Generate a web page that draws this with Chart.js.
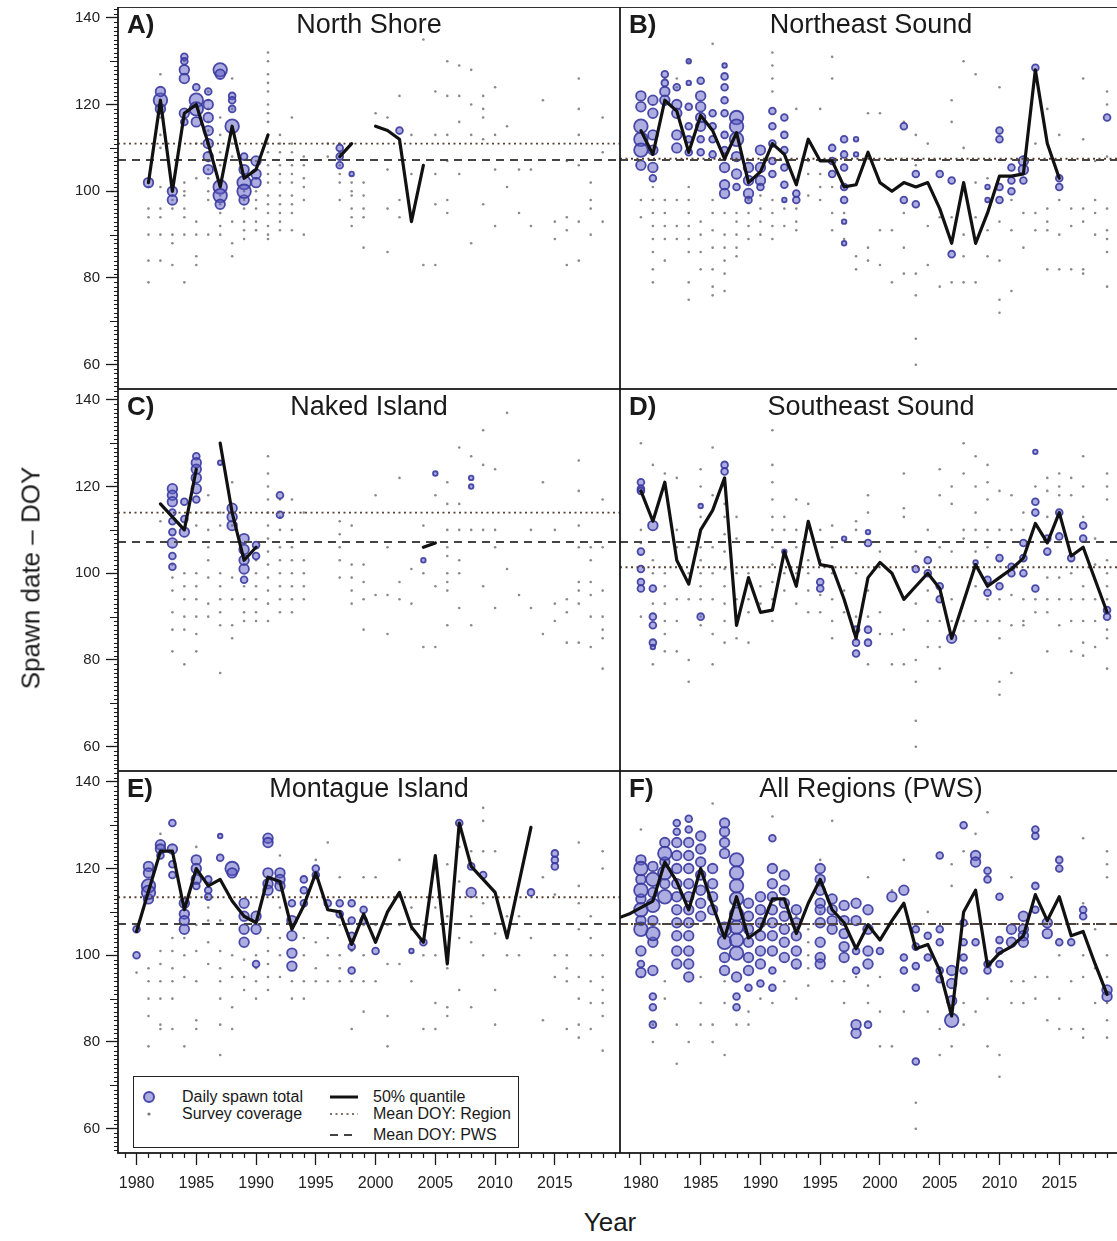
<!DOCTYPE html>
<html>
<head>
<meta charset="utf-8">
<script src="https://cdn.jsdelivr.net/npm/chart.js@4.4.1/dist/chart.umd.min.js"></script>
<style>
  body { margin: 0; width: 1117px; height: 1241px; overflow: hidden; background: #fff; position: relative;
         font-family: "Liberation Sans", Arial, sans-serif; color: #1a1a1a; }
  .box { position: absolute; }
  .letter { position: absolute; font-weight: bold; font-size: 26px; line-height: 27px; }
  .name { position: absolute; font-size: 27px; line-height: 27px; transform: translateX(-50%); white-space: nowrap; }
  .axtitle { position: absolute; font-size: 26px; white-space: nowrap; transform: translate(-50%, -50%); }
  #legend { position: absolute; left: 133px; top: 1076px; width: 384px; height: 70px; border: 1.6px solid #222;
            background: #fff; overflow: hidden; font-size: 16px; }
  #legend span { position: absolute; white-space: nowrap; line-height: 16px; }
  #legend svg { position: absolute; left: 0; top: 0; }
</style>
</head>
<body>

<script>
// ---- data -------------------------------------------------------------
const years = [1978, 1979, 1980, 1981, 1982, 1983, 1984, 1985, 1986, 1987, 1988, 1989, 1990, 1991,
               1992, 1993, 1994, 1995, 1996, 1997, 1998, 1999, 2000, 2001, 2002, 2003, 2004, 2005,
               2006, 2007, 2008, 2009, 2010, 2011, 2012, 2013, 2014, 2015, 2016, 2017, 2018, 2019];
const xTicks = [1980, 1985, 1990, 1995, 2000, 2005, 2010, 2015];
const yTicks = [60, 80, 100, 120, 140];

const panelLetters = ['A)', 'B)', 'C)', 'D)', 'E)', 'F)'];
const panelNames = ['North Shore', 'Northeast Sound', 'Naked Island', 'Southeast Sound',
                    'Montague Island', 'All Regions (PWS)'];
const regionMean = [111, 107.5, 114, 101.4, 113.4, 107.2];
const pwsMean = 107.2;

// 50% quantile of spawn date, one value per entry of `years` (null = no spawn)
const quantA = [null, null, null, 102, 121, 100, 118, 120, 111, 101, 115, 103, 105, 113,
                null, null, null, null, null, 108, 111, null, 115, 114, 112, 93, 106, null,
                null, null, null, null, null, null, null, null, null, null, null, null, null, null];
const quantB = [null, null, 114, 108.5, 121, 118.5, 109, 117.5, 114, 107.5, 113.5, 102, 104.5, 111,
                108.5, 101.5, 112, 107, 107, 101, 101.5, 109, 102, 100, 102, 101, 102, 96,
                88, 102, 88, 95, 103.5, 103.5, 104, 128, 111, 103, null, null, null, null];
const quantC = [null, null, null, null, 116, 113, 110, 124, null, 130, 114, 103, 106, null,
                null, null, null, null, null, null, null, null, null, null, null, null, 106, 107,
                null, null, null, null, null, null, null, null, null, null, null, null, null, null];
const quantD = [null, null, 119, 112, 121, 103, 97.5, 110, 114.5, 122, 88, 99, 91, 91.5,
                105, 97, 112, 102, 101.5, 94, 85, 99, 102.5, 100, 94, 97, 100, 96.5,
                85, 93.5, 102, 97, 99, 101, 103.5, 111.5, 107, 114, 104, 106, 98.5, 91];
const quantE = [null, null, 105.5, null, 124, 124, 110.5, 120, 116, 117.5, 112.5, 109, 107.5, 118,
                117, 106, 111.5, 119, 110.5, 110, 102.5, 109.5, 103, 110, 114.5, 106.5, 103, 123,
                98, 130.5, 120.5, 117.5, 114.5, 104, null, 129.5, null, null, null, null, null, null];
const quantF = [108.5, 109.5, 111, 112.5, 121.5, 117, 110.5, 120, 111.5, 104, 113.5, 104, 106, 113,
                113, 105, 112, 117.5, 110.5, 107.5, 101.5, 107, 103.5, 108, 112, 101.5, 102.5, 96.5,
                86, 110, 115, 97.5, 100.5, 102, 104.5, 114, 108, 113.5, 104.5, 105.5, 98, 91];

// survey coverage: [year, [days surveyed]]
const coverA = [
  [1981, [102, 101, 96, 94, 90, 84, 79]], [1982, [127, 117, 113, 110, 101, 96, 94, 90, 84]],
  [1983, [99, 98, 96, 90, 88, 83]], [1984, [130, 102, 100, 99, 96, 94, 90, 79]],
  [1985, [111, 103, 93, 90, 85, 83]], [1986, [123, 121, 119, 116, 114, 112, 109, 107, 105, 103, 100, 98, 90]],
  [1987, [117, 113, 109, 106, 102, 99, 97, 95, 92, 90]], [1988, [126, 119, 111, 108, 93, 88, 85]],
  [1989, [100, 98, 96, 93, 91, 89]], [1990, [107, 105, 103, 100, 98, 96, 93, 91]],
  [1991, [132, 130, 127, 125, 123, 120, 118, 116, 113, 111, 109, 106, 104, 102, 99, 97, 95, 92, 90, 89]],
  [1992, [113, 111, 109, 106, 104, 102, 99, 97, 95, 93, 91]], [1993, [117, 111, 109, 106, 104, 102, 99, 97, 95, 91]],
  [1994, [108, 106, 103, 101, 98, 90]], [1996, [111, 108]], [1997, [111, 109, 106, 104, 102, 98]],
  [1998, [102, 100, 99, 96, 94, 92]], [1999, [102, 99, 96, 94, 87]], [2000, [118]],
  [2001, [117, 105, 96, 86]], [2002, [122, 98, 94]], [2003, [113, 104]], [2004, [135, 83]],
  [2005, [123, 113, 104, 97, 83]], [2006, [130, 122, 113, 107, 98, 95]], [2007, [129, 122, 116, 104]],
  [2008, [128, 120, 113, 88]], [2009, [122, 119, 117, 112, 97]], [2010, [124, 113, 105, 92]],
  [2011, [115, 101]], [2012, [105, 95]], [2013, [105, 92]], [2014, [121]], [2015, [93, 89]],
  [2016, [107, 94, 91, 83]], [2017, [126, 119, 113, 106, 93, 84]], [2018, [102, 98, 96, 90]],
  [2019, [117, 109, 93]]
];
const coverB = [
  [1980, [98, 94]], [1981, [101, 98, 95, 92, 89, 86, 82, 79]], [1982, [126, 98, 95, 92, 89, 84]],
  [1983, [126, 124, 98, 92, 89]], [1984, [130, 101, 98, 95, 92, 89, 86, 79, 75]],
  [1985, [93, 90, 86, 82]], [1986, [134, 98, 95, 91, 87, 82, 78, 76]], [1987, [95, 90, 87, 84, 81, 77]],
  [1988, [95, 93, 90, 87, 85]], [1989, [98, 95, 92, 89]], [1990, [99, 96, 93, 90]],
  [1991, [132, 129, 126, 123, 98, 95, 92, 89]], [1992, [96, 92]], [1993, [119, 96, 93, 91]],
  [1994, [107, 104, 99]], [1995, [119, 104, 101, 98]], [1996, [131, 126, 101, 95, 91]],
  [1997, [95, 89]], [1998, [85, 82]], [1999, [118, 87, 84]], [2000, [118, 91, 83]], [2001, [91, 79]],
  [2002, [116, 95, 87, 81]], [2003, [113, 106, 81, 76, 66, 60]], [2004, [111, 92, 83]], [2005, [94, 78]],
  [2006, [121, 116, 94, 79]], [2007, [130, 110, 90, 85, 79]], [2008, [127, 102, 94, 79]],
  [2009, [103, 91, 85]], [2010, [124, 93, 84, 75, 72]], [2011, [98, 91, 77]], [2012, [108, 95, 87]],
  [2013, [111, 95, 91]], [2014, [119, 96, 93, 91, 82]], [2015, [113, 98, 90, 82]], [2016, [96, 92, 82]],
  [2017, [126, 112, 96, 93, 82, 81]], [2018, [107, 98, 95, 90]], [2019, [123, 120, 108, 96, 91, 89, 86, 78]]
];
const coverC = [
  [1982, [112]], [1983, [102, 99, 96, 91, 87, 82]], [1984, [110, 100, 97, 94, 90, 87, 79]],
  [1985, [114, 111, 100, 97, 94, 90, 86, 82]], [1986, [118, 114, 110, 106, 103, 99, 93, 90]],
  [1987, [114, 111, 100, 97, 94, 91, 88, 77]], [1988, [121, 111, 99, 94, 88, 85]], [1989, [97, 94, 91, 89]],
  [1990, [103, 100, 97, 94, 91, 89]], [1991, [127, 123, 120, 117, 114, 111, 108, 105, 102, 99, 96, 93, 89]],
  [1992, [117, 113, 110, 106, 103, 100, 97, 94, 91]], [1993, [117, 110, 106, 103, 100, 97, 94, 91]],
  [1994, [114, 103, 100, 97, 94]], [1997, [112, 109, 106, 103, 99]], [1998, [111, 102, 99, 96, 93]],
  [1999, [102, 98, 94, 87]], [2000, [118, 95]], [2001, [106, 95, 86]], [2002, [122, 98, 94]],
  [2003, [101, 93]], [2004, [111, 100, 83]], [2005, [118, 97, 83]],
  [2006, [121, 116, 110, 106, 104, 100, 98, 96, 88]], [2007, [129, 116, 110, 103, 100, 92]],
  [2008, [127, 110, 88]], [2009, [133, 125, 110, 97]], [2010, [124, 110, 106, 92]], [2011, [137, 101]],
  [2012, [95]], [2013, [110, 92]], [2014, [121, 86]], [2015, [110, 93, 89]], [2016, [94, 91, 84]],
  [2017, [126, 119, 111, 106, 98, 96, 93, 84]], [2018, [106, 103, 98, 95, 90, 83]],
  [2019, [117, 106, 96, 90, 87, 85, 78]]
];
const coverD = [
  [1980, [130, 110, 107, 90]], [1981, [125, 103, 100, 93, 79]], [1982, [123, 100, 97, 93, 89, 86, 82]],
  [1983, [122, 110, 106, 94, 89, 82]], [1984, [106, 100, 94, 80, 75]],
  [1985, [124, 120, 113, 110, 106, 103, 100, 97, 94, 90, 88]], [1986, [129, 118, 106, 100, 94, 86, 79]],
  [1987, [120, 116, 113, 109, 105, 101, 97, 93, 89, 84]], [1988, [113, 108, 100, 94, 85]],
  [1989, [100, 94, 91, 84]], [1990, [97, 93]], [1991, [133, 125, 121, 117, 113, 110, 106, 102, 98, 94, 89]],
  [1992, [113, 110, 100, 96]], [1993, [117, 110, 106, 100, 93]], [1994, [116, 103, 100, 96, 91]],
  [1995, [110, 103, 95, 91]], [1996, [111, 106, 100, 94, 89, 85]], [1997, [96, 91]],
  [1998, [112, 110, 100, 90]], [1999, [118, 114, 96, 90, 79]], [2000, [105, 91, 86]], [2001, [100, 86, 79]],
  [2002, [123, 115, 113, 87, 79]], [2003, [105, 93, 80, 75, 66, 60]], [2004, [110, 96, 89, 83]],
  [2005, [124, 118, 106, 89, 83, 78]], [2006, [120, 116, 105, 94, 89]], [2007, [130, 123, 110, 108, 89]],
  [2008, [127, 120, 114, 110, 105, 97, 89]], [2009, [125, 121, 117, 110, 106, 94, 89]],
  [2010, [119, 110, 94, 89, 85, 75, 72]], [2011, [118, 110, 95, 88, 77]], [2012, [114, 110, 94, 89, 88]],
  [2013, [120, 94, 91]], [2014, [122, 119, 113, 99, 94, 91, 82]], [2015, [123, 120, 118, 99, 94, 88]],
  [2016, [122, 118, 100, 94, 89, 82]], [2017, [127, 120, 113, 97, 94, 89, 84, 81]],
  [2018, [108, 102, 94, 89, 83]], [2019, [123, 120, 117, 103, 100, 97, 94, 87, 85, 78]]
];
const coverE = [
  [1980, [96]], [1981, [97, 94, 90, 86, 79]], [1982, [128, 101, 98, 94, 90, 84, 83]],
  [1983, [124, 104, 101, 97, 94, 90, 83]], [1984, [111, 104, 100, 95, 79]], [1985, [125, 107, 101, 94, 85, 83]],
  [1986, [111, 108, 103, 98]], [1987, [108, 101, 97, 94, 90, 84, 77]], [1988, [100, 95, 88, 83]],
  [1989, [99, 95, 92]], [1990, [100, 97, 94, 90]], [1991, [104, 101, 98, 95, 92]],
  [1992, [123, 111, 104, 100, 95]], [1993, [94, 90]], [1994, [104, 100, 94, 90]], [1995, [122, 103, 97, 94]],
  [1996, [126, 104, 100, 94]], [1997, [118, 107, 100, 97, 94]], [1998, [101, 94, 83]],
  [1999, [118, 107, 100, 94, 87]], [2000, [118, 107, 94]], [2001, [107, 98, 86, 79]], [2002, [122, 107, 98]],
  [2003, [111, 106, 94]], [2004, [107, 100, 83]], [2005, [121, 111, 100, 89, 83]],
  [2006, [121, 109, 97, 88, 86]], [2007, [125, 117, 104, 92]], [2008, [124, 109, 103, 88]],
  [2009, [134, 131, 124, 112, 100]], [2010, [124, 105, 92, 84]], [2011, [109, 100]], [2012, [109, 100]],
  [2013, [104]], [2014, [118, 85]], [2015, [114, 100, 95]], [2016, [100, 97, 94, 83]],
  [2017, [126, 116, 112, 106, 95, 90, 84, 81]], [2018, [109, 104, 100, 94, 89, 83]],
  [2019, [124, 120, 100, 95, 92, 89, 86, 78]]
];
const coverF = [
  [1980, [129, 95]], [1981, [84, 80]], [1982, [94, 90]], [1983, [84, 75]], [1984, [80]],
  [1985, [95, 89, 84]], [1986, [135, 84, 80]], [1987, [94, 89, 77]], [1988, [84]], [1989, [87, 84]],
  [1990, [90]], [1991, [132, 89]], [1992, [94]], [1993, [109, 97, 90]], [1994, [106, 103, 100, 97, 93]],
  [1995, [122, 110]], [1996, [131, 94]], [1997, [94, 89]], [1998, [95]], [1999, [118, 93, 89]],
  [2000, [95, 87, 79]], [2001, [115, 79]], [2002, [122, 87]], [2003, [66, 60]], [2004, [110, 87]],
  [2005, [83, 77]], [2006, [121, 116, 79]], [2007, [124, 89, 84]], [2008, [128, 87]], [2009, [133, 90, 79]],
  [2010, [77, 72]], [2011, [118, 94, 89]], [2012, [94, 89]], [2013, [95, 90]], [2014, [95, 85]],
  [2015, [100, 90, 83]], [2016, [94, 83]], [2017, [127, 112, 100, 95, 83, 81]], [2018, [106, 97, 89]],
  [2019, [124, 121, 118, 100, 95, 89, 85, 81]]
];

// daily spawn totals: [year, size class 1-4, [days]]
const spawnA = [
  [1981, 3, [102]], [1982, 4, [121]], [1982, 3, [123, 119]], [1983, 3, [100, 98]],
  [1984, 2, [131, 130, 116]], [1984, 3, [128, 126, 118]], [1985, 2, [124]], [1985, 4, [121, 119]],
  [1985, 3, [116]], [1986, 2, [123]], [1986, 3, [120, 117, 114, 111, 108, 105]],
  [1987, 4, [128, 101, 99]], [1987, 3, [127, 97]], [1988, 2, [122, 121, 119]], [1988, 4, [115]],
  [1989, 2, [108]], [1989, 3, [105, 98]], [1989, 4, [102, 100]], [1990, 3, [107, 104, 102]],
  [1997, 2, [110, 108, 106]], [1998, 1, [104]], [2002, 2, [114]]
];
const spawnB = [
  [1980, 3, [122, 119.5, 106]], [1980, 4, [115, 112, 109.5]], [1981, 3, [121, 118, 113, 109.5, 105.5]],
  [1981, 2, [103]], [1982, 2, [127, 125]], [1982, 3, [123, 121]], [1983, 2, [124]],
  [1983, 3, [120, 118, 113, 110]], [1984, 1, [130, 125]], [1984, 2, [119.5, 115, 112, 109]],
  [1985, 2, [125.5, 112, 109]], [1985, 3, [122, 119.5, 117, 115]], [1986, 2, [118, 115, 112, 108.5]],
  [1987, 1, [129]], [1987, 2, [126.5, 124, 121, 118, 113, 109.5]], [1987, 3, [105.5, 101.5, 99.5]],
  [1988, 4, [117, 115, 112]], [1988, 3, [108, 104]], [1988, 2, [101]], [1989, 3, [105.5, 102.5, 99.5]],
  [1989, 2, [98]], [1990, 3, [109.5, 105.5, 102.5]], [1990, 2, [101]], [1991, 2, [118.5, 115, 111, 107, 104]],
  [1992, 2, [117, 113, 109.5, 105.5, 101.5]], [1992, 1, [98]], [1993, 2, [99.5, 98]],
  [1996, 2, [110, 107, 104]], [1997, 2, [112, 108.5, 105.5, 101, 98]], [1997, 1, [93, 88]],
  [1998, 1, [112, 108.5]], [2002, 2, [115, 98]], [2003, 2, [104, 97]], [2005, 2, [104]],
  [2006, 2, [102.5, 85.5]], [2009, 1, [101, 98]], [2010, 2, [114, 112, 101, 98]],
  [2011, 2, [105.5, 102.5, 100]], [2012, 3, [107, 105]], [2012, 2, [102.5]], [2013, 2, [128.5]],
  [2015, 2, [103, 101]], [2019, 2, [117]]
];
const spawnC = [
  [1983, 3, [119.5, 118, 116.5, 107]], [1983, 2, [114, 112, 109.5, 104, 101.5]], [1984, 2, [116.5, 112.5]],
  [1984, 3, [109.5]], [1985, 2, [127, 117]], [1985, 3, [125.5, 124, 122, 119.5]], [1987, 1, [125.5]],
  [1988, 3, [115, 113, 111]], [1989, 3, [108, 105.5, 103, 101]], [1989, 2, [98.5]], [1990, 2, [106.5, 104]],
  [1992, 2, [118, 113.5]], [2004, 1, [103]], [2005, 1, [123]], [2008, 1, [122, 120]]
];
const spawnD = [
  [1980, 2, [121, 119.5, 119, 105, 101, 98, 96.5]], [1981, 3, [111]], [1981, 2, [96.5, 90, 88, 84]],
  [1981, 1, [83]], [1985, 1, [115.5]], [1985, 2, [90]], [1987, 2, [125, 123.5]], [1992, 1, [105]],
  [1995, 2, [98, 96.5]], [1997, 1, [108]], [1998, 2, [87, 84, 81.5]], [1999, 1, [109.5]],
  [1999, 2, [107, 87, 84]], [2003, 2, [101]], [2004, 2, [103, 100]], [2005, 2, [97, 94]], [2006, 3, [85]],
  [2008, 1, [102.5]], [2009, 2, [98.5, 95.5]], [2010, 2, [103.5, 97]], [2011, 2, [101.5, 100]],
  [2012, 2, [107, 103.5, 100]], [2013, 1, [128]], [2013, 2, [116.5, 114, 96.5]], [2014, 2, [108, 105]],
  [2015, 2, [114, 108.5]], [2016, 2, [103.5]], [2017, 2, [111, 108]], [2019, 2, [91.5, 90]]
];
const spawnE = [
  [1980, 2, [106, 100]], [1981, 3, [120.5, 119, 113]], [1981, 4, [116, 114.5]], [1982, 3, [125.5, 124.5]],
  [1982, 2, [123]], [1983, 2, [130.5, 121, 118.5]], [1983, 3, [124.5]], [1984, 3, [112, 109.5, 108, 106]],
  [1985, 3, [122, 120, 117.5]], [1985, 2, [116]], [1986, 2, [117.5, 115, 113.5]], [1987, 1, [127.5]],
  [1987, 2, [122.5]], [1988, 4, [120]], [1988, 3, [119]], [1989, 3, [112, 109, 106, 103]],
  [1990, 3, [109, 106]], [1990, 2, [98]], [1991, 3, [127, 126, 119, 116.5, 115]], [1992, 3, [119, 117.5, 116]],
  [1993, 2, [112]], [1993, 3, [108, 104.5, 100.5, 97.5]], [1994, 2, [117.5, 115, 112]], [1995, 2, [120, 118.5]],
  [1996, 2, [112]], [1997, 2, [112, 109.5]], [1998, 2, [112, 108, 104.5, 102, 96.5]], [1999, 2, [110.5, 108]],
  [2000, 2, [101]], [2003, 1, [101]], [2004, 2, [103]], [2007, 2, [130.5]], [2008, 2, [120.5]],
  [2008, 3, [114.5]], [2009, 2, [118.5]], [2013, 2, [114.5]], [2015, 2, [123.5, 122, 120.5]]
];
const spawnF = [
  [1980, 3, [122, 117.5, 113, 108, 101, 96]], [1980, 4, [120, 115, 110.5, 106]], [1980, 2, [98]],
  [1981, 3, [120.5, 114.5, 108, 103, 96.5]], [1981, 4, [117.5, 111.5, 105]], [1981, 2, [90.5, 88, 84]],
  [1982, 3, [126, 121.5, 116.5]], [1982, 4, [123.5, 119, 113.5]], [1983, 2, [130.5, 128.5]],
  [1983, 3, [126, 123, 120, 116.5, 113.5, 110.5, 107.5, 104.5, 101, 98]], [1984, 2, [131.5, 129]],
  [1984, 3, [126, 123, 120, 116.5, 113.5, 110.5, 107.5, 104.5, 101, 98, 95]],
  [1985, 3, [127.5, 124.5, 121.5, 118.5, 115, 112, 109]], [1986, 3, [120, 116.5, 113.5, 110.5]],
  [1987, 3, [130.5, 128.5, 126, 123.5, 99.5, 96.5]], [1987, 4, [106, 103]],
  [1988, 4, [122, 119, 116, 113, 109.5, 106.5, 103.5, 100.5]], [1988, 3, [95]], [1988, 2, [90.5, 88]],
  [1989, 3, [112, 109, 106, 103, 99.5, 96.5]], [1989, 2, [92.5]], [1990, 3, [113.5, 110.5, 107.5, 104.5, 101, 98]],
  [1990, 2, [93.5]], [1991, 2, [127, 96.5, 92.5]], [1991, 3, [120, 116.5, 113.5, 110.5, 107.5, 104.5, 101]],
  [1992, 3, [118.5, 115, 112, 109, 106, 103, 99.5]], [1993, 3, [110.5, 107.5, 104.5, 101, 98]],
  [1995, 3, [120, 117.5, 115, 112, 110.5, 107.5, 103, 99.5, 98]], [1996, 3, [113, 110.5, 108, 106]],
  [1997, 3, [111.5, 108, 105, 102, 99.5]], [1998, 3, [112, 108, 84, 82]], [1998, 2, [101, 96.5]],
  [1999, 3, [110.5, 106, 101, 98]], [1999, 2, [84]], [2000, 2, [101]], [2001, 3, [113.5]], [2002, 3, [115]],
  [2002, 2, [99.5, 96.5]], [2003, 2, [106, 102, 97.5, 92.5, 75.5]], [2004, 2, [104.5, 99.5]],
  [2005, 2, [123, 106, 103, 96.5, 94.5]], [2006, 3, [96.5, 93.5, 89.5]], [2006, 4, [85]],
  [2007, 2, [130, 107.5, 103, 99.5, 96.5]], [2008, 3, [123, 121.5]], [2008, 2, [103]],
  [2009, 2, [119.5, 117.5, 98, 96.5]], [2010, 2, [113.5, 103.5, 101, 98]], [2011, 3, [106, 103]],
  [2012, 3, [109, 106, 104.5, 103]], [2013, 2, [129, 127.5, 116, 110.5]], [2014, 3, [107.5, 105]],
  [2015, 2, [122, 120, 103]], [2016, 2, [103]], [2017, 2, [110.5, 109]], [2019, 3, [92, 90.5]]
];

// ---- layout -----------------------------------------------------------
const AXIS_W = 118;          // left axis strip
const PLOT_W = 502;
const ROW_TOP = [7, 389, 771];
const ROW_H = 382;
const XAXIS_H = 48;
const X_MIN = [1978.45, 1978.25];
const X_SPAN = 42;
const Y_MIN = 54.4, Y_MAX = 142.5;
const SPAWN_R = [0, 2.3, 3.4, 4.8, 6.8];

const panels = [
  { quant: quantA, cover: coverA, spawn: spawnA, gaps: false },
  { quant: quantB, cover: coverB, spawn: spawnB, gaps: false },
  { quant: quantC, cover: coverC, spawn: spawnC, gaps: false },
  { quant: quantD, cover: coverD, spawn: spawnD, gaps: false },
  { quant: quantE, cover: coverE, spawn: spawnE, gaps: true },
  { quant: quantF, cover: coverF, spawn: spawnF, gaps: false }
];

Chart.defaults.font.family = '"Liberation Sans", Arial, sans-serif';
Chart.defaults.color = '#222';

// frame around the plot + minor ticks on the outer axes
const framePlugin = {
  id: 'frame',
  afterDraw(chart) {
    const { ctx, chartArea: a, scales: { x, y } } = chart;
    ctx.save();
    ctx.strokeStyle = '#1a1a1a';
    ctx.lineWidth = 1.2;
    ctx.beginPath();
    if (y.options.display) {
      for (let v = Math.ceil(Y_MIN); v <= Y_MAX; v++) {
        if (v % 20 === 0) continue;
        const len = v % 10 === 0 ? 8 : 4;
        const py = Math.round(y.getPixelForValue(v)) + 0.5;
        ctx.moveTo(a.left, py);
        ctx.lineTo(a.left - len, py);
      }
    }
    if (x.options.display) {
      for (let v = Math.ceil(x.min); v <= x.max; v++) {
        if (xTicks.includes(v)) continue;
        const px = Math.round(x.getPixelForValue(v)) + 0.5;
        ctx.moveTo(px, a.bottom);
        ctx.lineTo(px, a.bottom + 5);
      }
    }
    ctx.stroke();
    ctx.lineWidth = 1.8;
    ctx.strokeRect(a.left, a.top, a.right - a.left, a.bottom - a.top);
    ctx.restore();
  }
};

function coverPoints(list) {
  return list.flatMap(([yr, days]) => days.map(d => ({ x: yr, y: d })));
}
function spawnPoints(list) {
  return list.flatMap(([yr, s, days]) => days.map(d => ({ x: yr, y: d, s })));
}

panels.forEach((p, i) => {
  const col = i % 2, row = Math.floor(i / 2);
  const left = col === 0 ? 0 : AXIS_W + PLOT_W;
  const width = col === 0 ? AXIS_W + PLOT_W : PLOT_W;
  const height = row === 2 ? ROW_H + XAXIS_H : ROW_H;
  const xMin = X_MIN[col], xMax = X_MIN[col] + X_SPAN;

  const div = document.createElement('div');
  div.className = 'box';
  div.style.cssText = `left:${left}px;top:${ROW_TOP[row]}px;width:${width}px;height:${height}px`;
  const cv = document.createElement('canvas');
  cv.width = width; cv.height = height;
  div.appendChild(cv);
  document.body.appendChild(div);

  new Chart(cv, {
    type: 'scatter',
    data: {
      datasets: [
        {
          type: 'line', data: years.map((yr, k) => ({ x: yr, y: p.quant[k] })),
          borderColor: '#111', borderWidth: 3.2, pointRadius: 0, spanGaps: p.gaps,
          borderJoinStyle: 'round', borderCapStyle: 'round', order: 0
        },
        {
          type: 'line', data: [{ x: xMin, y: regionMean[i] }, { x: xMax, y: regionMean[i] }],
          borderColor: '#5a4234', borderWidth: 1.9, borderDash: [2, 3.5], pointRadius: 0, order: 1
        },
        {
          type: 'line', data: [{ x: xMin, y: pwsMean }, { x: xMax, y: pwsMean }],
          borderColor: '#444', borderWidth: 2, borderDash: [8, 6], pointRadius: 0, order: 2
        },
        {
          data: spawnPoints(p.spawn),
          pointRadius: c => (c.raw ? SPAWN_R[c.raw.s] : 3),
          backgroundColor: 'rgba(92,92,196,0.5)', borderColor: 'rgba(58,58,160,0.9)',
          borderWidth: 1.8, order: 3
        },
        {
          data: coverPoints(p.cover),
          pointRadius: 1.3, backgroundColor: 'rgba(60,60,60,0.6)', borderWidth: 0, order: 4
        }
      ]
    },
    options: {
      responsive: false,
      animation: false,
      events: [],
      layout: { padding: 0, autoPadding: false },
      plugins: { legend: { display: false }, tooltip: { enabled: false } },
      scales: {
        x: {
          type: 'linear', min: xMin, max: xMax, display: row === 2,
          afterBuildTicks: s => { s.ticks = xTicks.map(v => ({ value: v })); },
          afterFit: s => {
            if (s.options.display) s.height = XAXIS_H;
            s.paddingLeft = 0; s.paddingRight = 0;
          },
          ticks: { font: { size: 16 }, padding: 9, maxRotation: 0, autoSkip: false, color: '#222',
                   callback: v => String(v) },
          grid: { drawOnChartArea: false, tickLength: 12, tickColor: '#1a1a1a', tickWidth: 1.3 },
          border: { display: false }
        },
        y: {
          type: 'linear', min: Y_MIN, max: Y_MAX, display: col === 0,
          afterBuildTicks: s => { s.ticks = yTicks.map(v => ({ value: v })); },
          afterFit: s => {
            if (s.options.display) s.width = AXIS_W;
            s.paddingTop = 0; s.paddingBottom = 0;
          },
          ticks: { font: { size: 15 }, padding: 6, color: '#222', callback: v => String(v) },
          grid: { drawOnChartArea: false, tickLength: 12, tickColor: '#1a1a1a', tickWidth: 1.3 },
          border: { display: false }
        }
      }
    },
    plugins: [framePlugin]
  });

  // panel titles sit inside the plot box
  const areaLeft = col === 0 ? AXIS_W : AXIS_W + PLOT_W;
  const letter = document.createElement('div');
  letter.className = 'letter';
  letter.textContent = panelLetters[i];
  letter.style.left = (areaLeft + 9) + 'px';
  letter.style.top = (ROW_TOP[row] + 4) + 'px';
  document.body.appendChild(letter);
  const name = document.createElement('div');
  name.className = 'name';
  name.textContent = panelNames[i];
  name.style.left = (areaLeft + PLOT_W / 2) + 'px';
  name.style.top = (ROW_TOP[row] + 4) + 'px';
  document.body.appendChild(name);
});
</script>

<div class="axtitle" style="left:31px;top:578px;transform:translate(-50%,-50%) rotate(-90deg)">Spawn date – DOY</div>
<div class="axtitle" style="left:610px;top:1222px">Year</div>

<div id="legend">
  <svg width="384" height="70">
    <circle cx="15" cy="20" r="5" fill="rgba(92,92,196,0.5)" stroke="rgba(58,58,160,0.9)" stroke-width="2"/>
    <circle cx="15" cy="37" r="1.6" fill="rgba(60,60,60,0.7)"/>
    <line x1="196" y1="20" x2="224" y2="20" stroke="#111" stroke-width="3"/>
    <line x1="196" y1="37" x2="224" y2="37" stroke="#5a4234" stroke-width="1.6" stroke-dasharray="2 3.5"/>
    <line x1="196" y1="58" x2="224" y2="58" stroke="#444" stroke-width="2" stroke-dasharray="8 6"/>
  </svg>
  <span style="left:48px;top:12px">Daily spawn total</span>
  <span style="left:48px;top:29px">Survey coverage</span>
  <span style="left:239px;top:12px">50% quantile</span>
  <span style="left:239px;top:29px">Mean DOY: Region</span>
  <span style="left:239px;top:50px">Mean DOY: PWS</span>
</div>
</body>
</html>
